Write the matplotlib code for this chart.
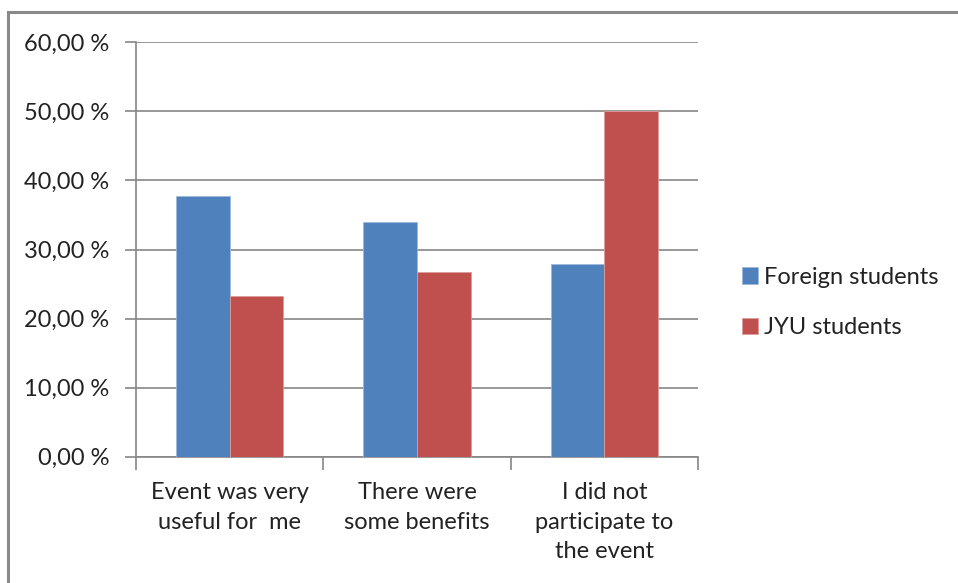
import numpy as np
import matplotlib.pyplot as plt
from matplotlib.patches import Rectangle
from matplotlib.ticker import FuncFormatter

# survey answers, share of respondents (%)
categories = ['Event was very\nuseful for  me', 'There were\nsome benefits', 'I did not\nparticipate to\nthe event']
foreign = [37.8, 34.0, 27.9]
jyu = [23.3, 26.7, 50.0]
series_names = ['Foreign students', 'JYU students']

blue = '#4F81BD'
red = '#C0504D'
grid_col = '#868686'

plt.rcParams['font.family'] = ['Lato', 'DejaVu Sans']

fig = plt.figure(figsize=(9.58, 5.83), dpi=100)
ax = fig.add_axes([136/958, 1-456.7/583, (698-136)/958, (456.7-42.3)/583])

x = np.arange(len(categories))
w = 1/3.5
ax.bar(x - w/2, foreign, w, color=blue, edgecolor='#9db8dc', linewidth=0.6, label=series_names[0], zorder=3)
ax.bar(x + w/2, jyu, w, color=red, edgecolor='#dc9c9a', linewidth=0.6, label=series_names[1], zorder=3)

ax.set_xlim(-0.5, 2.5)
ax.set_ylim(0, 60)
ax.set_yticks(np.arange(0, 61, 10))
ax.yaxis.set_major_formatter(FuncFormatter(lambda v, p: ('%.2f' % v).replace('.', ',') + ' %'))
ax.yaxis.grid(True, color=grid_col, linewidth=1.2, zorder=0)
ax.tick_params(axis='y', length=8, color=grid_col, width=1.2, labelsize=17, labelcolor='#222222', pad=11)

# category ticks sit on the group boundaries, labels in the middle
ax.set_xticks([-0.5, 0.5, 1.5, 2.5])
ax.set_xticklabels([])
ax.tick_params(axis='x', length=9, color=grid_col, width=1.2)
for i, c in enumerate(categories):
    ax.text(i, -3.7, c, ha='center', va='top', fontsize=17, color='#222222', linespacing=1.5)

for s in ['top', 'right']:
    ax.spines[s].set_visible(False)
for s in ['left', 'bottom']:
    ax.spines[s].set_color(grid_col)
    ax.spines[s].set_linewidth(1.2)

ax.legend(loc='center left', bbox_to_anchor=(1.04, 0.372), frameon=False, fontsize=17,
          handlelength=0.7, handleheight=0.7, handletextpad=0.25, labelspacing=1.25,
          labelcolor='#222222')

# chart frame
fig.patches.append(Rectangle((8/958, -0.1), 1.1, 1 - 12/583 + 0.1, transform=fig.transFigure,
                             fill=False, edgecolor='#8a8a8a', linewidth=2.2))

fig.savefig('out.png', dpi=100)
